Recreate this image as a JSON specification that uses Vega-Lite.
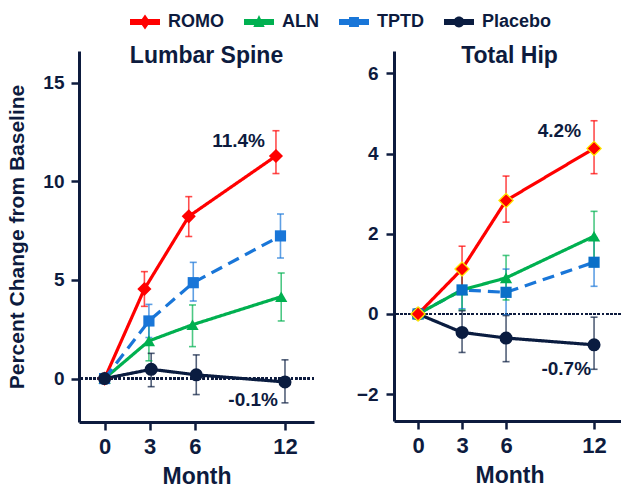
{
  "$schema": "https://vega.github.io/schema/vega-lite/v6.json",
  "background": "white",
  "padding": {"left": 6, "top": 7, "right": 0, "bottom": 0},
  "config": {
    "font": "Liberation Sans",
    "view": {"stroke": null},
    "axis": {"grid": false, "domainColor": "#0d1b3e", "domainWidth": 3, "tickColor": "#0d1b3e", "tickWidth": 2.5, "tickSize": 8, "labelFont": "Liberation Sans", "labelFontWeight": "bold", "labelColor": "#0d1b3e", "titleFont": "Liberation Sans", "titleFontWeight": "bold", "titleColor": "#0d1b3e"},
    "axisY": {"labelFontSize": 19, "labelPadding": 7, "titleFontSize": 21, "titlePadding": 15},
    "axisX": {"labelFontSize": 22, "labelPadding": 6, "titleFontSize": 23, "titlePadding": 8},
    "title": {"fontSize": 23, "fontWeight": "bold", "color": "#0d1b3e", "font": "Liberation Sans"},
    "concat": {"spacing": 41}
  },
  "datasets": {
    "spine": [
      {"series": "ROMO", "month": 0, "pct": 0, "lo": null, "hi": null, "label": null},
      {"series": "ROMO", "month": 2.65, "pct": 4.54, "lo": 3.66, "hi": 5.42, "label": null},
      {"series": "ROMO", "month": 5.6, "pct": 8.22, "lo": 7.2, "hi": 9.22, "label": null},
      {"series": "ROMO", "month": 11.4, "pct": 11.28, "lo": 10.39, "hi": 12.56, "label": "11.4%"},
      {"series": "ALN", "month": 0, "pct": 0, "lo": null, "hi": null, "label": null},
      {"series": "ALN", "month": 2.95, "pct": 1.91, "lo": 0.9, "hi": 2.92, "label": null},
      {"series": "ALN", "month": 5.85, "pct": 2.73, "lo": 1.62, "hi": 3.73, "label": null},
      {"series": "ALN", "month": 11.75, "pct": 4.15, "lo": 2.92, "hi": 5.35, "label": null},
      {"series": "TPTD", "month": 0, "pct": 0, "lo": null, "hi": null, "label": null},
      {"series": "TPTD", "month": 2.95, "pct": 2.92, "lo": 2.08, "hi": 3.76, "label": null},
      {"series": "TPTD", "month": 5.9, "pct": 4.86, "lo": 3.93, "hi": 5.89, "label": null},
      {"series": "TPTD", "month": 11.7, "pct": 7.23, "lo": 6.11, "hi": 8.34, "label": null},
      {"series": "Placebo", "month": 0, "pct": 0, "lo": null, "hi": null, "label": null},
      {"series": "Placebo", "month": 3.1, "pct": 0.47, "lo": -0.41, "hi": 1.28, "label": null},
      {"series": "Placebo", "month": 6.1, "pct": 0.19, "lo": -0.81, "hi": 1.2, "label": null},
      {"series": "Placebo", "month": 12, "pct": -0.17, "lo": -1.23, "hi": 0.95, "label": "-0.1%"}
    ],
    "hip": [
      {"series": "Placebo", "month": 0, "pct": 0, "lo": null, "hi": null, "label": null},
      {"series": "Placebo", "month": 3, "pct": -0.46, "lo": -0.96, "hi": 0.08, "label": null},
      {"series": "Placebo", "month": 6, "pct": -0.6, "lo": -1.19, "hi": -0.04, "label": null},
      {"series": "Placebo", "month": 12, "pct": -0.77, "lo": -1.38, "hi": -0.08, "label": "-0.7%"},
      {"series": "TPTD", "month": 0, "pct": 0, "lo": null, "hi": null, "label": null},
      {"series": "TPTD", "month": 3, "pct": 0.6, "lo": 0.13, "hi": 1.08, "label": null},
      {"series": "TPTD", "month": 6, "pct": 0.54, "lo": -0.02, "hi": 1.12, "label": null},
      {"series": "TPTD", "month": 12, "pct": 1.29, "lo": 0.69, "hi": 1.9, "label": null},
      {"series": "ALN", "month": 0, "pct": 0, "lo": null, "hi": null, "label": null},
      {"series": "ALN", "month": 3, "pct": 0.6, "lo": 0.1, "hi": 1.1, "label": null},
      {"series": "ALN", "month": 6, "pct": 0.9, "lo": 0.35, "hi": 1.46, "label": null},
      {"series": "ALN", "month": 12, "pct": 1.94, "lo": 1.3, "hi": 2.56, "label": null},
      {"series": "ROMO", "month": 0, "pct": 0, "lo": null, "hi": null, "label": null},
      {"series": "ROMO", "month": 3, "pct": 1.12, "lo": 0.56, "hi": 1.69, "label": null},
      {"series": "ROMO", "month": 6, "pct": 2.83, "lo": 2.29, "hi": 3.44, "label": null},
      {"series": "ROMO", "month": 12, "pct": 4.13, "lo": 3.5, "hi": 4.82, "label": "4.2%"}
    ]
  },
  "resolve": {"scale": {"x": "independent", "y": "independent"}},
  "hconcat": [
    {
      "width": 235,
      "height": 371,
      "title": {"text": "Lumbar Spine", "offset": -35, "dx": 10, "frame": "group", "baseline": "alphabetic"},
      "data": {"name": "spine"},
      "layer": [
        {
          "mark": {"type": "rule", "strokeDash": [2, 2.2], "strokeWidth": 2, "color": "#0d1b3e"},
          "encoding": {"y": {"datum": 0, "type": "quantitative", "title": "Percent Change from Baseline", "scale": {"domain": [-2.2, 16.6], "nice": false, "zero": false}}}
        },
        {
          "transform": [{"filter": "datum.lo != null"}],
          "mark": {"type": "rule", "strokeWidth": 1.6, "opacity": 0.7},
          "encoding": {
            "x": {"field": "month", "type": "quantitative", "title": "Month", "scale": {"domain": [-1.7, 13.93], "nice": false, "zero": false}, "axis": {"values": [0, 3, 6, 12]}},
            "y": {"field": "lo", "type": "quantitative", "title": "Percent Change from Baseline", "scale": {"domain": [-2.2, 16.6], "nice": false, "zero": false}, "axis": {"values": [0, 5, 10, 15]}},
            "y2": {"field": "hi"},
            "stroke": {"field": "series", "type": "nominal", "scale": {"range": ["#00b050", "#0a1c40", "#ff0000", "#1976d8"]}, "legend": null}
          }
        },
        {
          "transform": [{"filter": "datum.lo != null"}],
          "mark": {"type": "tick", "orient": "horizontal", "size": 7, "thickness": 1.6, "opacity": 0.7},
          "encoding": {
            "x": {"field": "month", "type": "quantitative", "title": "Month", "scale": {"domain": [-1.7, 13.93], "nice": false, "zero": false}},
            "y": {"field": "lo", "type": "quantitative", "title": "Percent Change from Baseline", "scale": {"domain": [-2.2, 16.6], "nice": false, "zero": false}},
            "fill": {"field": "series", "type": "nominal", "scale": {"range": ["#00b050", "#0a1c40", "#ff0000", "#1976d8"]}, "legend": null}
          }
        },
        {
          "transform": [{"filter": "datum.lo != null"}],
          "mark": {"type": "tick", "orient": "horizontal", "size": 7, "thickness": 1.6, "opacity": 0.7},
          "encoding": {
            "x": {"field": "month", "type": "quantitative", "title": "Month", "scale": {"domain": [-1.7, 13.93], "nice": false, "zero": false}},
            "y": {"field": "hi", "type": "quantitative", "title": "Percent Change from Baseline", "scale": {"domain": [-2.2, 16.6], "nice": false, "zero": false}},
            "fill": {"field": "series", "type": "nominal", "legend": null}
          }
        },
        {
          "mark": {"type": "line", "strokeWidth": 3.2},
          "encoding": {
            "x": {"field": "month", "type": "quantitative", "title": "Month", "scale": {"domain": [-1.7, 13.93], "nice": false, "zero": false}},
            "y": {"field": "pct", "type": "quantitative", "title": "Percent Change from Baseline", "scale": {"domain": [-2.2, 16.6], "nice": false, "zero": false}},
            "stroke": {"field": "series", "type": "nominal", "legend": null},
            "strokeDash": {"field": "series", "type": "nominal", "scale": {"range": [[1, 0], [1, 0], [1, 0], [12, 7]]}, "legend": null}
          }
        },
        {
          "transform": [{"filter": "datum.series === 'ROMO'"}],
          "mark": {"type": "point", "shape": "diamond", "filled": true, "opacity": 1, "size": 200, "color": "#ff0000"},
          "encoding": {
            "x": {"field": "month", "type": "quantitative", "title": "Month", "scale": {"domain": [-1.7, 13.93], "nice": false, "zero": false}},
            "y": {"field": "pct", "type": "quantitative", "title": "Percent Change from Baseline", "scale": {"domain": [-2.2, 16.6], "nice": false, "zero": false}}
          }
        },
        {
          "transform": [{"filter": "datum.series === 'ALN'"}],
          "mark": {"type": "point", "shape": "triangle-up", "filled": true, "opacity": 1, "size": 150, "color": "#00b050"},
          "encoding": {
            "x": {"field": "month", "type": "quantitative", "title": "Month", "scale": {"domain": [-1.7, 13.93], "nice": false, "zero": false}},
            "y": {"field": "pct", "type": "quantitative", "title": "Percent Change from Baseline", "scale": {"domain": [-2.2, 16.6], "nice": false, "zero": false}}
          }
        },
        {
          "transform": [{"filter": "datum.series === 'TPTD'"}],
          "mark": {"type": "point", "shape": "square", "filled": true, "opacity": 1, "size": 125, "color": "#1976d8"},
          "encoding": {
            "x": {"field": "month", "type": "quantitative", "title": "Month", "scale": {"domain": [-1.7, 13.93], "nice": false, "zero": false}},
            "y": {"field": "pct", "type": "quantitative", "title": "Percent Change from Baseline", "scale": {"domain": [-2.2, 16.6], "nice": false, "zero": false}}
          }
        },
        {
          "transform": [{"filter": "datum.series === 'Placebo'"}],
          "mark": {"type": "point", "shape": "circle", "filled": true, "opacity": 1, "size": 170, "color": "#0a1c40"},
          "encoding": {
            "x": {"field": "month", "type": "quantitative", "title": "Month", "scale": {"domain": [-1.7, 13.93], "nice": false, "zero": false}},
            "y": {"field": "pct", "type": "quantitative", "title": "Percent Change from Baseline", "scale": {"domain": [-2.2, 16.6], "nice": false, "zero": false}}
          }
        },
        {
          "transform": [{"filter": "false"}],
          "mark": {"type": "point", "filled": true, "opacity": 1},
          "encoding": {
            "x": {"field": "month", "type": "quantitative", "title": "Month", "scale": {"domain": [-1.7, 13.93], "nice": false, "zero": false}},
            "y": {"field": "pct", "type": "quantitative", "title": "Percent Change from Baseline", "scale": {"domain": [-2.2, 16.6], "nice": false, "zero": false}},
            "shape": {
              "field": "series", "type": "nominal",
              "scale": {"domain": ["ROMO", "ALN", "TPTD", "Placebo"], "range": [
                "M-1,-0.2H1V0.2H-1Z M0,-0.5L0.35,0L0,0.5L-0.35,0Z",
                "M-1,-0.2H1V0.2H-1Z M0,-0.47L0.38,0.33L-0.38,0.33Z",
                "M-1,-0.2H1V0.2H-1Z M-0.33,-0.33H0.33V0.33H-0.33Z",
                "M-1,-0.2H1V0.2H-1Z M0.36,0A0.36,0.36 0 1,1 -0.36,0A0.36,0.36 0 1,1 0.36,0Z"
              ]}
            },
            "color": {
              "field": "series", "type": "nominal",
              "scale": {"domain": ["ROMO", "ALN", "TPTD", "Placebo"], "range": ["#ff0000", "#00b050", "#1976d8", "#0a1c40"]},
              "legend": {
                "title": null, "orient": "none", "legendX": 51, "legendY": -44, "direction": "horizontal", "padding": 0,
                "symbolSize": 900, "symbolStrokeWidth": 0, "symbolOpacity": 1,
                "labelFont": "Liberation Sans", "labelFontSize": 18, "labelFontWeight": "bold", "labelColor": "#0d1b3e", "labelOffset": 8, "columnPadding": 20
              }
            }
          }
        },
        {
          "transform": [{"filter": "datum.series === 'ROMO' && datum.label != null"}],
          "mark": {"type": "text", "align": "right", "baseline": "middle", "dx": -11, "dy": -15, "fontSize": 19, "fontWeight": "bold", "color": "#0d1b3e"},
          "encoding": {
            "x": {"field": "month", "type": "quantitative", "title": "Month", "scale": {"domain": [-1.7, 13.93], "nice": false, "zero": false}},
            "y": {"field": "pct", "type": "quantitative", "title": "Percent Change from Baseline", "scale": {"domain": [-2.2, 16.6], "nice": false, "zero": false}},
            "text": {"field": "label"}
          }
        },
        {
          "transform": [{"filter": "datum.series === 'Placebo' && datum.label != null"}],
          "mark": {"type": "text", "align": "right", "baseline": "middle", "dx": -7, "dy": 18, "fontSize": 19, "fontWeight": "bold", "color": "#0d1b3e"},
          "encoding": {
            "x": {"field": "month", "type": "quantitative", "title": "Month", "scale": {"domain": [-1.7, 13.93], "nice": false, "zero": false}},
            "y": {"field": "pct", "type": "quantitative", "title": "Percent Change from Baseline", "scale": {"domain": [-2.2, 16.6], "nice": false, "zero": false}},
            "text": {"field": "label"}
          }
        }
      ]
    },
    {
      "width": 231,
      "height": 370,
      "title": {"text": "Total Hip", "offset": -35, "frame": "group", "baseline": "alphabetic"},
      "data": {"name": "hip"},
      "layer": [
        {
          "mark": {"type": "rule", "strokeDash": [2, 2.2], "strokeWidth": 2, "color": "#0d1b3e"},
          "encoding": {"y": {"datum": 0, "type": "quantitative", "title": null, "scale": {"domain": [-2.67, 6.56], "nice": false, "zero": false}}}
        },
        {
          "transform": [{"filter": "datum.lo != null"}],
          "mark": {"type": "rule", "strokeWidth": 1.6, "opacity": 0.7},
          "encoding": {
            "x": {"field": "month", "type": "quantitative", "title": "Month", "scale": {"domain": [-1.64, 14.11], "nice": false, "zero": false}, "axis": {"values": [0, 3, 6, 12]}},
            "y": {"field": "lo", "type": "quantitative", "title": null, "scale": {"domain": [-2.67, 6.56], "nice": false, "zero": false}, "axis": {"values": [-2, 0, 2, 4, 6], "labelPadding": 8}},
            "y2": {"field": "hi"},
            "stroke": {"field": "series", "type": "nominal", "legend": null}
          }
        },
        {
          "transform": [{"filter": "datum.lo != null"}],
          "mark": {"type": "tick", "orient": "horizontal", "size": 7, "thickness": 1.6, "opacity": 0.7},
          "encoding": {
            "x": {"field": "month", "type": "quantitative", "title": "Month", "scale": {"domain": [-1.64, 14.11], "nice": false, "zero": false}},
            "y": {"field": "lo", "type": "quantitative", "title": null, "scale": {"domain": [-2.67, 6.56], "nice": false, "zero": false}},
            "fill": {"field": "series", "type": "nominal", "legend": null}
          }
        },
        {
          "transform": [{"filter": "datum.lo != null"}],
          "mark": {"type": "tick", "orient": "horizontal", "size": 7, "thickness": 1.6, "opacity": 0.7},
          "encoding": {
            "x": {"field": "month", "type": "quantitative", "title": "Month", "scale": {"domain": [-1.64, 14.11], "nice": false, "zero": false}},
            "y": {"field": "hi", "type": "quantitative", "title": null, "scale": {"domain": [-2.67, 6.56], "nice": false, "zero": false}},
            "fill": {"field": "series", "type": "nominal", "legend": null}
          }
        },
        {
          "mark": {"type": "line", "strokeWidth": 3.2},
          "encoding": {
            "x": {"field": "month", "type": "quantitative", "title": "Month", "scale": {"domain": [-1.64, 14.11], "nice": false, "zero": false}},
            "y": {"field": "pct", "type": "quantitative", "title": null, "scale": {"domain": [-2.67, 6.56], "nice": false, "zero": false}},
            "stroke": {"field": "series", "type": "nominal", "legend": null},
            "strokeDash": {"field": "series", "type": "nominal", "legend": null}
          }
        },
        {
          "transform": [{"filter": "datum.series === 'Placebo'"}],
          "mark": {"type": "point", "shape": "circle", "filled": true, "opacity": 1, "size": 170, "color": "#0a1c40"},
          "encoding": {
            "x": {"field": "month", "type": "quantitative", "title": "Month", "scale": {"domain": [-1.64, 14.11], "nice": false, "zero": false}},
            "y": {"field": "pct", "type": "quantitative", "title": null, "scale": {"domain": [-2.67, 6.56], "nice": false, "zero": false}}
          }
        },
        {
          "transform": [{"filter": "datum.series === 'ALN'"}],
          "mark": {"type": "point", "shape": "triangle-up", "filled": true, "opacity": 1, "size": 150, "color": "#00b050"},
          "encoding": {
            "x": {"field": "month", "type": "quantitative", "title": "Month", "scale": {"domain": [-1.64, 14.11], "nice": false, "zero": false}},
            "y": {"field": "pct", "type": "quantitative", "title": null, "scale": {"domain": [-2.67, 6.56], "nice": false, "zero": false}}
          }
        },
        {
          "transform": [{"filter": "datum.series === 'TPTD'"}],
          "mark": {"type": "point", "shape": "square", "filled": true, "opacity": 1, "size": 125, "color": "#0a70c8"},
          "encoding": {
            "x": {"field": "month", "type": "quantitative", "title": "Month", "scale": {"domain": [-1.64, 14.11], "nice": false, "zero": false}},
            "y": {"field": "pct", "type": "quantitative", "title": null, "scale": {"domain": [-2.67, 6.56], "nice": false, "zero": false}}
          }
        },
        {
          "transform": [{"filter": "datum.series === 'ROMO'"}],
          "mark": {"type": "point", "shape": "diamond", "filled": true, "opacity": 1, "size": 200, "fill": "#ff0000", "stroke": "#ffe600", "strokeWidth": 1.3},
          "encoding": {
            "x": {"field": "month", "type": "quantitative", "title": "Month", "scale": {"domain": [-1.64, 14.11], "nice": false, "zero": false}},
            "y": {"field": "pct", "type": "quantitative", "title": null, "scale": {"domain": [-2.67, 6.56], "nice": false, "zero": false}}
          }
        },
        {
          "transform": [{"filter": "datum.series === 'ROMO' && datum.label != null"}],
          "mark": {"type": "text", "align": "right", "baseline": "middle", "dx": -13, "dy": -17, "fontSize": 19, "fontWeight": "bold", "color": "#0d1b3e"},
          "encoding": {
            "x": {"field": "month", "type": "quantitative", "title": "Month", "scale": {"domain": [-1.64, 14.11], "nice": false, "zero": false}},
            "y": {"field": "pct", "type": "quantitative", "title": null, "scale": {"domain": [-2.67, 6.56], "nice": false, "zero": false}},
            "text": {"field": "label"}
          }
        },
        {
          "transform": [{"filter": "datum.series === 'Placebo' && datum.label != null"}],
          "mark": {"type": "text", "align": "right", "baseline": "middle", "dx": -3, "dy": 24, "fontSize": 19, "fontWeight": "bold", "color": "#0d1b3e"},
          "encoding": {
            "x": {"field": "month", "type": "quantitative", "title": "Month", "scale": {"domain": [-1.64, 14.11], "nice": false, "zero": false}},
            "y": {"field": "pct", "type": "quantitative", "title": null, "scale": {"domain": [-2.67, 6.56], "nice": false, "zero": false}},
            "text": {"field": "label"}
          }
        }
      ]
    }
  ]
}
